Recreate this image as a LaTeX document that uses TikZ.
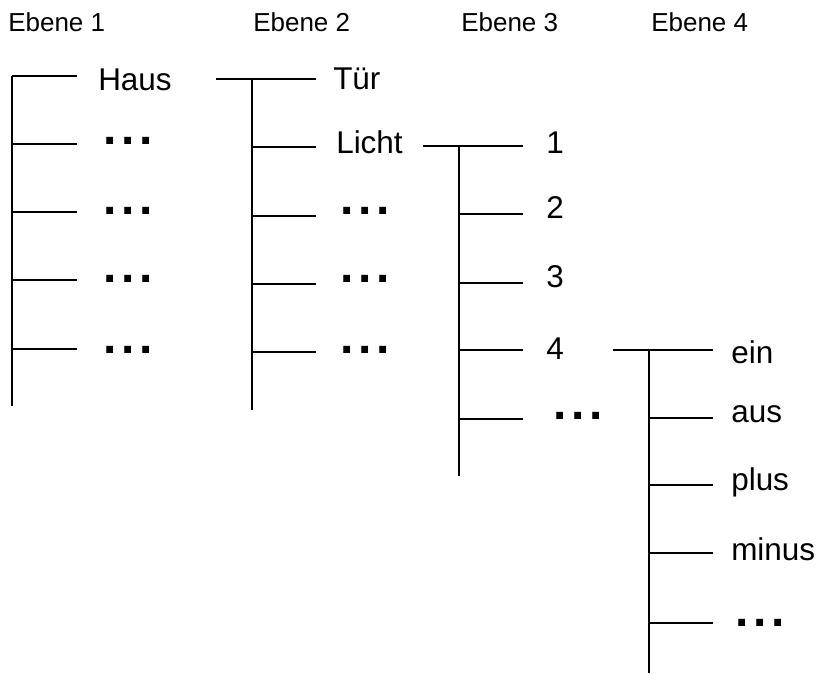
\documentclass[tikz,border=0pt]{standalone}
\usepackage{fontspec}
\setmainfont{Liberation Sans}
\newfontfamily\punktfont{Liberation Sans}[LetterSpace=9.8]
\usetikzlibrary{positioning}
\tikzset{
	ast/.style={line width=1.5pt},
	ebene/.style={font=\fontsize{19.5}{20}\selectfont, anchor=base west, inner sep=0pt},
	eintrag/.style={font=\fontsize{23.6}{24}\selectfont, anchor=base west, inner sep=0pt},
	punkte/.style={font=\punktfont\bfseries\fontsize{36}{36}\selectfont, anchor=base west, inner sep=0pt}
}
\begin{document}
\begin{tikzpicture}[x=0.75pt, y=-0.75pt]
		\useasboundingbox (0,0) rectangle (819,675);
		% Ueberschriften
		\node[ebene] (e1) at (8,31) {Ebene 1};
		\node[ebene] (e2) at (253,31) {Ebene 2};
		\node[ebene] (e3) at (461,31) {Ebene 3};
		\node[ebene] (e4) at (651,31) {Ebene 4};
		% Ebene 1
		\coordinate (k1o) at (12,76);
		\coordinate (k1u) at (12,406);
		\foreach \y [count=\i] in {76,144,212,280,349}
			\coordinate (a\i) at (77,\y);
		\draw[ast] (k1o) -- (k1u);
		\foreach \i in {1,...,5}
			\draw[ast] (k1o |- a\i) -- (a\i);
		\node[eintrag] (haus) at (98,90) {Haus};
		\node[punkte] (p11) at (103,144) {...};
		\node[punkte] (p12) at (103,214) {...};
		\node[punkte] (p13) at (103,282) {...};
		\node[punkte] (p14) at (103,353) {...};
		% Ebene 2
		\coordinate (b0) at (216,79);
		\coordinate (k2o) at (252,79);
		\coordinate (k2u) at (252,410);
		\foreach \y [count=\i] in {79,147,216,284,352}
			\coordinate (b\i) at (316,\y);
		\draw[ast] (k2o) -- (k2u);
		\draw[ast] (b0) -- (b1);
		\foreach \i in {2,...,5}
			\draw[ast] (k2o |- b\i) -- (b\i);
		\node[eintrag] (tuer) at (333,89) {Tür};
		\node[eintrag] (licht) at (336,153) {Licht};
		\node[punkte] (p21) at (340,214) {...};
		\node[punkte] (p22) at (340,282) {...};
		\node[punkte] (p23) at (340,353) {...};
		% Ebene 3
		\coordinate (c0) at (423,146);
		\coordinate (k3o) at (459,146);
		\coordinate (k3u) at (459,476);
		\foreach \y [count=\i] in {146,214,283,350,419}
			\coordinate (c\i) at (523,\y);
		\draw[ast] (k3o) -- (k3u);
		\draw[ast] (c0) -- (c1);
		\foreach \i in {2,...,5}
			\draw[ast] (k3o |- c\i) -- (c\i);
		\node[eintrag] (n1) at (546,153) {1};
		\node[eintrag] (n2) at (546,218) {2};
		\node[eintrag] (n3) at (546,287) {3};
		\node[eintrag] (n4) at (546,359) {4};
		\node[punkte] (p31) at (553,419) {...};
		% Ebene 4
		\coordinate (d0) at (613,350);
		\coordinate (k4o) at (649,350);
		\coordinate (k4u) at (649,673);
		\foreach \y [count=\i] in {350,418,485,553,623}
			\coordinate (d\i) at (713,\y);
		\draw[ast] (k4o) -- (k4u);
		\draw[ast] (d0) -- (d1);
		\foreach \i in {2,...,5}
			\draw[ast] (k4o |- d\i) -- (d\i);
		\node[eintrag] (ein) at (731,363) {ein};
		\node[eintrag] (aus) at (731,422) {aus};
		\node[eintrag] (plus) at (731,490) {plus};
		\node[eintrag] (minus) at (731,560) {minus};
		\node[punkte] (p41) at (735,626) {...};
	\end{tikzpicture}
\end{document}
